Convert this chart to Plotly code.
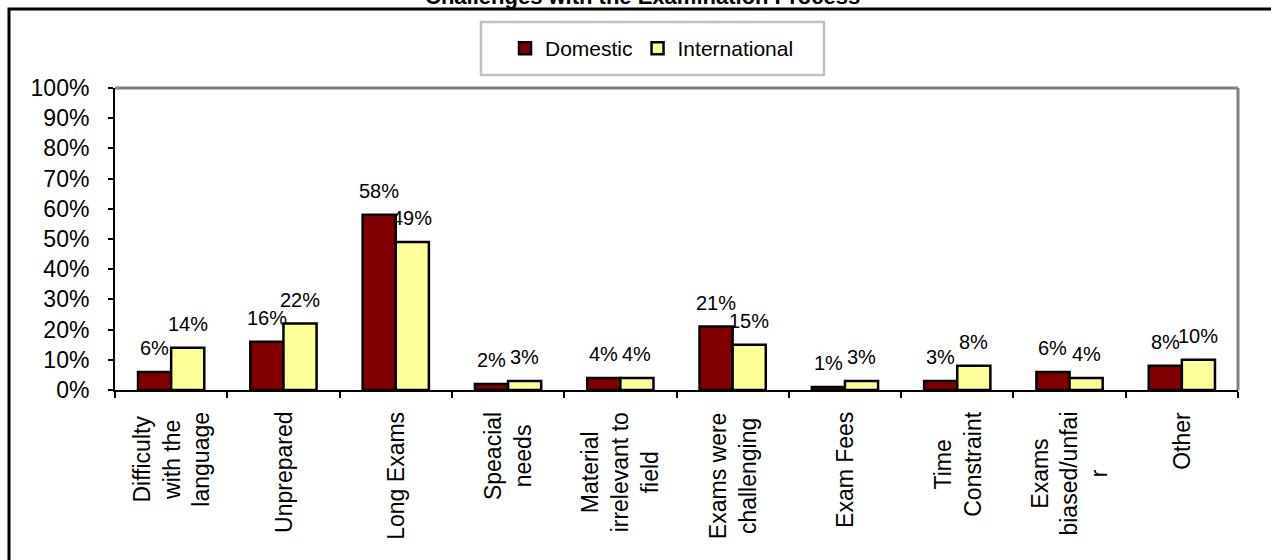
import plotly.graph_objects as go

categories = ["Difficulty with the language", "Unprepared", "Long Exams", "Speacial needs",
              "Material irrelevant to field", "Exams were challenging", "Exam Fees",
              "Time Constraint", "Exams biased/unfair", "Other"]
category_labels = ["Difficulty<br>with the<br>language", "Unprepared", "Long Exams", "Speacial<br>needs",
                   "Material<br>irrelevant to<br>field", "Exams were<br>challenging", "Exam Fees",
                   "Time<br>Constraint", "Exams<br>biased/unfai<br>r", "Other"]
domestic = [0.06, 0.16, 0.58, 0.02, 0.04, 0.21, 0.01, 0.03, 0.06, 0.08]
international = [0.14, 0.22, 0.49, 0.03, 0.04, 0.15, 0.03, 0.08, 0.04, 0.10]
series_names = ["Domestic", "International"]
series_colors = ["#800000", "#FFFF99"]
title_text = "Challenges with the Examination Process"

FONT = "Liberation Sans, Arial, sans-serif"
# plot area in page pixels
PL, PR, PT, PB = 115, 1238, 88, 390
W, H = 1271, 560
ML, MT = PL, PT
MR = W - PR
MB = H - PB
PW = PR - PL
PH = PB - PT
BARGAP = 0.41

def px_x(p):
    return (p - PL) / PW

def px_y(p):
    return (PB - p) / PH

fig = go.Figure()
for name, vals, col in zip(series_names, [domestic, international], series_colors):
    fig.add_trace(go.Bar(
        x=categories, y=vals, name=name,
        marker=dict(color=col, line=dict(color="black", width=2.5)),
        hoverinfo="skip",
    ))

# data labels
cat_w = PW / len(categories)
bar_w = cat_w * (1 - BARGAP) / 2
annotations = []
for si, vals in enumerate([domestic, international]):
    sign = -1 if si == 0 else 1
    for c, v in zip(categories, vals):
        annotations.append(dict(
            x=c, y=v, xref="x", yref="y", text=f"{round(v*100)}%", showarrow=False,
            xanchor="center", yanchor="bottom", xshift=sign * bar_w / 2, yshift=11,
            font=dict(family=FONT, size=20, color="black"),
        ))

# category labels
for c, lab in zip(categories, category_labels):
    annotations.append(dict(
        x=c, y=0, xref="x", yref="paper", text=lab, showarrow=False,
        textangle=-90, align="center", xanchor="center", yanchor="top", yshift=-20,
        font=dict(family=FONT, size=23, color="black"),
    ))

# title (cut off at top in the reference)
annotations.append(dict(
    x=px_x(642), y=px_y(-4), xref="paper", yref="paper", text=f"<b>{title_text}</b>",
    showarrow=False, xanchor="center", yanchor="middle",
    font=dict(family=FONT, size=22, color="black"),
))

shapes = [
    # outer chart border
    dict(type="rect", xref="paper", yref="paper", x0=px_x(9), x1=1.2, y0=-0.8, y1=px_y(9),
         line=dict(color="black", width=3), fillcolor="rgba(0,0,0,0)", layer="above"),
    # plot area top / right border
    dict(type="line", xref="paper", yref="paper", x0=0, x1=1, y0=1, y1=1,
         line=dict(color="#808080", width=3)),
    dict(type="line", xref="paper", yref="paper", x0=1, x1=1, y0=0, y1=1,
         line=dict(color="#808080", width=3)),
    # legend box
    dict(type="rect", xref="paper", yref="paper", x0=px_x(481), x1=px_x(824), y0=px_y(75), y1=px_y(22),
         line=dict(color="#C0C0C0", width=2.5), fillcolor="rgba(0,0,0,0)"),
]

fig.update_layout(
    width=W, height=H, autosize=False,
    margin=dict(l=ML, r=MR, t=MT, b=MB, pad=0),
    paper_bgcolor="white", plot_bgcolor="white",
    barmode="group", bargap=BARGAP, bargroupgap=0,
    font=dict(family=FONT, color="black"),
    showlegend=True,
    legend=dict(orientation="h", x=px_x(652), xanchor="center", y=px_y(48.5), yanchor="middle",
                font=dict(family=FONT, size=21, color="black"), bgcolor="rgba(0,0,0,0)",
                borderwidth=0, traceorder="normal", itemclick=False),
    xaxis=dict(type="category", range=[-0.5, len(categories) - 0.5], showline=True, linecolor="black",
               linewidth=2, ticks="outside", tickson="boundaries", ticklen=6, tickcolor="black",
               tickwidth=1.5, showticklabels=False, showgrid=False, zeroline=False, fixedrange=True),
    yaxis=dict(range=[0, 1], dtick=0.1, tickformat=".0%", showline=True, linecolor="black", linewidth=2,
               ticks="outside", ticklen=5, tickcolor="black", tickwidth=1.5, showgrid=False,
               zeroline=False, ticklabelstandoff=14,
               tickfont=dict(family=FONT, size=23, color="black"), fixedrange=True),
    annotations=annotations,
    shapes=shapes,
)

fig.write_html("out.html",
               config={"displayModeBar": False},
               post_script="document.body.style.margin='0';document.body.style.overflow='hidden';")
